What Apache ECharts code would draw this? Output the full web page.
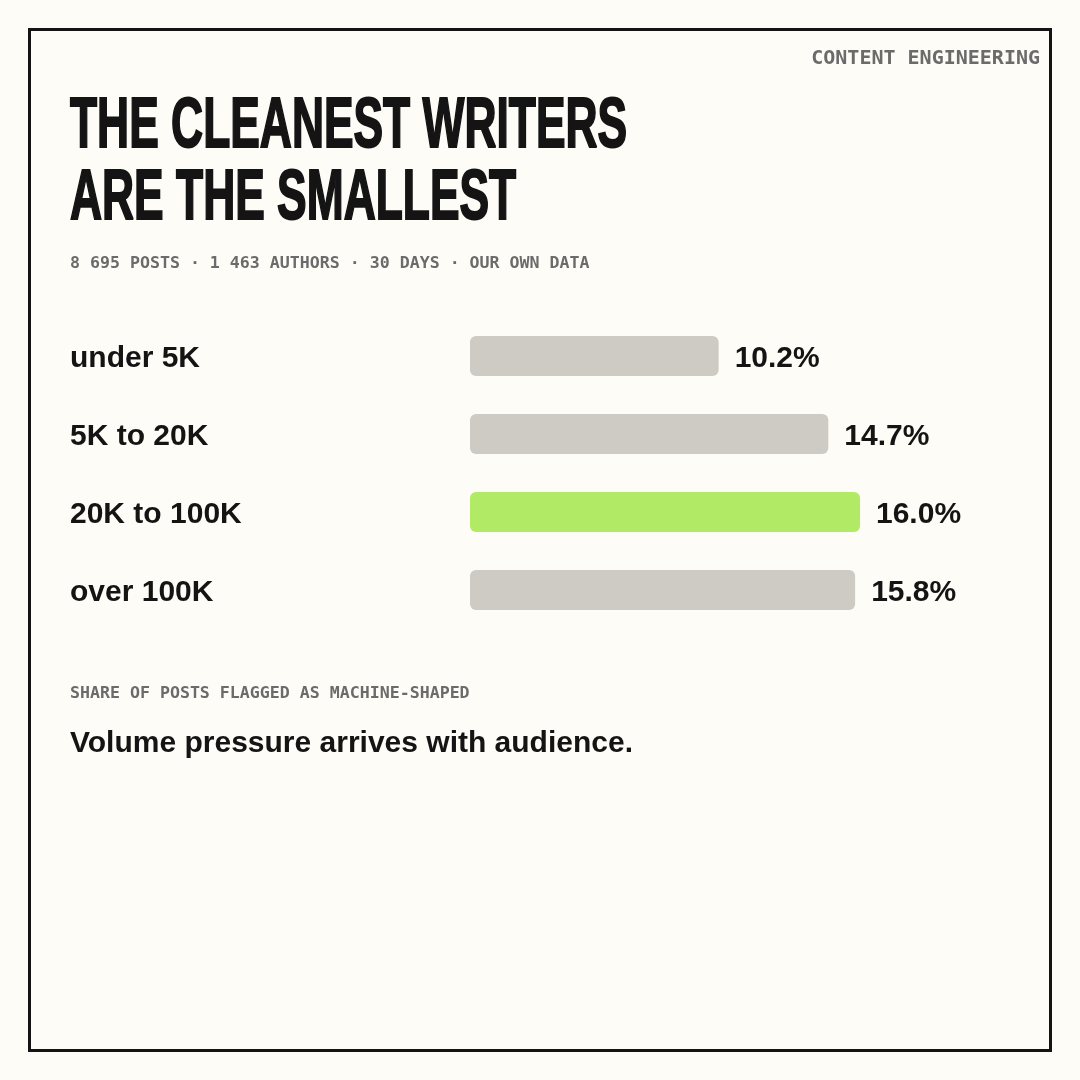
<!DOCTYPE html>
<html>
<head>
<meta charset="utf-8">
<script src="https://cdn.jsdelivr.net/npm/echarts@6/dist/echarts.min.js"></script>
<style>
  html, body { margin: 0; padding: 0; background: #fdfcf7; }
  #chart { width: 1080px; height: 1080px; }
</style>
</head>
<body>
<div id="chart"></div>
<script>
// audience size buckets and share of posts flagged (%)
var categories = ['under 5K', '5K to 20K', '20K to 100K', 'over 100K']
var flaggedShare = [10.2, 14.7, 16.0, 15.8]
var highlightIndex = 2

var titleLines = ['THE CLEANEST WRITERS', 'ARE THE SMALLEST']
var subtitle = '8 695 POSTS · 1 463 AUTHORS · 30 DAYS · OUR OWN DATA'
var kicker = 'CONTENT ENGINEERING'
var axisNote = 'SHARE OF POSTS FLAGGED AS MACHINE-SHAPED'
var takeaway = 'Volume pressure arrives with audience.'

var chart = echarts.init(document.getElementById('chart'))

var mono = '"DejaVu Sans Mono", "Liberation Mono", monospace'
var sans = '"Liberation Sans", Arial, sans-serif'

var barData = flaggedShare.map(function (v, i) {
    return {
        value: v,
        itemStyle: { color: i === highlightIndex ? '#b1eb65' : '#cdcbc3' }
    }
})

// condensed headline: squeezed bold sans with a thin same-colour stroke
function titleText(text, y) {
    return {
        type: 'text',
        x: 70, y: y, scaleX: 0.625,
        style: {
            text: text, fill: '#141414',
            stroke: '#141414', lineWidth: 2,
            font: 'bold 71px ' + sans,
            textAlign: 'left', textVerticalAlign: 'middle'
        }
    }
}

var option = {
    backgroundColor: '#fdfcf7',
    animation: false,
    grid: {
        left: 470,
        top: 317,
        width: 390,
        height: 312
    },
    xAxis: {
        type: 'value',
        min: 0,
        max: 16,
        show: false
    },
    yAxis: {
        type: 'category',
        data: categories,
        inverse: true,
        axisLine: { show: false },
        axisTick: { show: false },
        axisLabel: {
            align: 'left',
            margin: 400,
            // nudge the labels a few px below the bar centre, like the original
            verticalAlign: 'top',
            lineHeight: 6,
            color: '#141414',
            fontFamily: sans,
            fontWeight: 'bold',
            fontSize: 30
        }
    },
    series: [
        {
            type: 'bar',
            data: barData,
            barWidth: 40,
            itemStyle: { borderRadius: 6 },
            label: {
                show: true,
                position: 'right',
                distance: 16,
                offset: [0, 3],
                color: '#141414',
                fontFamily: sans,
                fontWeight: 'bold',
                fontSize: 30,
                formatter: function (p) { return p.value.toFixed(1) + '%' }
            }
        }
    ],
    graphic: [
        {
            type: 'rect',
            shape: { x: 29.5, y: 29.5, width: 1021, height: 1021 },
            style: { fill: 'none', stroke: '#141414', lineWidth: 3 },
            silent: true
        },
        {
            type: 'text',
            x: 1040, y: 59,
            style: {
                text: kicker, fill: '#6b6b6b',
                font: 'bold 20px ' + mono,
                textAlign: 'right', textVerticalAlign: 'middle'
            }
        },
        titleText(titleLines[0], 127.5),
        titleText(titleLines[1], 199),
        {
            type: 'text',
            x: 70, y: 264,
            style: {
                text: subtitle, fill: '#6b6b6b',
                font: 'bold 16.6px ' + mono,
                textAlign: 'left', textVerticalAlign: 'middle'
            }
        },
        {
            type: 'text',
            x: 70, y: 694,
            style: {
                text: axisNote, fill: '#6b6b6b',
                font: 'bold 16.6px ' + mono,
                textAlign: 'left', textVerticalAlign: 'middle'
            }
        },
        {
            type: 'text',
            x: 70, y: 744,
            style: {
                text: takeaway, fill: '#141414',
                font: 'bold 30px ' + sans,
                textAlign: 'left', textVerticalAlign: 'middle'
            }
        }
    ]
}

chart.setOption(option)
</script>
</body>
</html>
